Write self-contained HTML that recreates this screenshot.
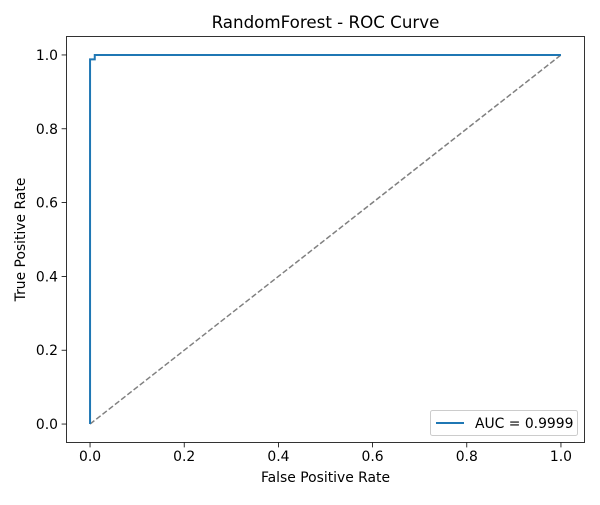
<!DOCTYPE html>
<html><head><meta charset="utf-8"><style>body{margin:0;background:#fff}text{font-family:"DejaVu Sans","Liberation Sans",sans-serif;fill:#000}</style></head>
<body>
<svg id="c" width="600" height="500" xmlns="http://www.w3.org/2000/svg">
<rect width="600" height="500" fill="#fff"/>
<text x="325.5" y="28" font-size="16.7" text-anchor="middle">RandomForest - ROC Curve</text>
<g id="plot"></g>
<text x="325.5" y="482" font-size="13.9" text-anchor="middle">False Positive Rate</text>
<text transform="translate(25,239.5) rotate(-90)" font-size="13.9" text-anchor="middle">True Positive Rate</text>
</svg>
<script>
const fpr=[0,0,0.01,0.01,1];
const tpr=[0,0.988,0.988,1,1];
const ticks=[0,0.2,0.4,0.6,0.8,1.0];
const tickLabels=["0.0","0.2","0.4","0.6","0.8","1.0"];
const aucLabel="AUC = 0.9999";
const L=66.5,R=584.5,T=36.5,B=442.5;
const sx=v=>L+(v+0.05)/1.1*(R-L);
const sy=v=>B-(v+0.05)/1.1*(B-T);
const NS="http://www.w3.org/2000/svg";
const g=document.getElementById('plot');
function mk(t,a){const e=document.createElementNS(NS,t);for(const k in a)e.setAttribute(k,a[k]);g.appendChild(e);return e;}
const diag=mk('line',{x1:sx(0),y1:sy(0),x2:sx(1),y2:sy(1),stroke:'#808080','stroke-width':1.5,'stroke-dasharray':'5.5,2.4'});


const roc=mk('polyline',{points:fpr.map((v,i)=>sx(v)+','+sy(tpr[i])).join(' '),fill:'none',stroke:'#1f77b4','stroke-width':2});


const frame=mk('rect',{x:L,y:T,width:R-L,height:B-T,fill:'none',stroke:'#000','stroke-width':0.8});


ticks.forEach((v,i)=>{
 const xt=mk('line',{x1:sx(v),y1:B,x2:sx(v),y2:B+4.9,stroke:'#000','stroke-width':0.8});
 
 
 const xl=mk('text',{x:sx(v),y:B+18.5,'font-size':13.9,'text-anchor':'middle'});xl.textContent=tickLabels[i];
 
 
 const yt=mk('line',{x1:L-4.9,y1:sy(v),x2:L,y2:sy(v),stroke:'#000','stroke-width':0.8});
 
 
 const yl=mk('text',{x:L-8.5,y:sy(v)+5,'font-size':13.9,'text-anchor':'end'});yl.textContent=tickLabels[i];
 
 
});
const leg=mk('rect',{x:430.5,y:410.5,width:147,height:25,rx:2,fill:'#fff','fill-opacity':0.8,stroke:'#ccc','stroke-width':1});


const ll=mk('line',{x1:436,y1:423,x2:464,y2:423,stroke:'#1f77b4','stroke-width':2});


const lt=mk('text',{x:475,y:428,'font-size':13.9});lt.textContent=aucLabel;


</script>
</body></html>
